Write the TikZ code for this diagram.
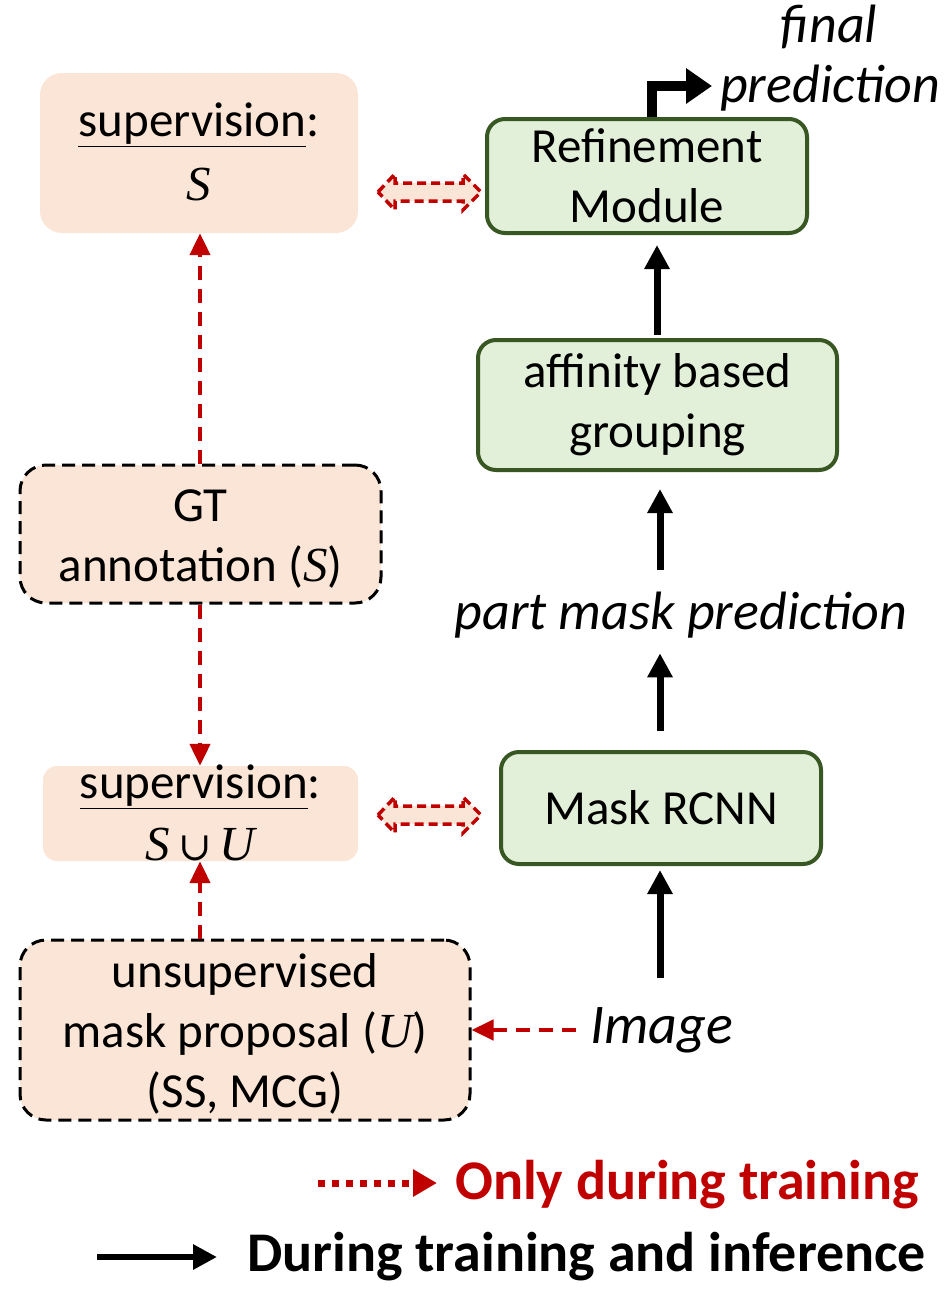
\documentclass[tikz,border=0pt]{standalone}
\usepackage{fontspec}
\setmainfont{Carlito}
\newfontfamily\mfont{Liberation Serif}
\newfontfamily\symfnt{DejaVu Serif}
\newcommand{\mS}{{\mfont\itshape S}}
\newcommand{\mU}{{\mfont\itshape U}}
\usetikzlibrary{arrows.meta}
\definecolor{peach}{HTML}{FBE5D6}
\definecolor{gfill}{HTML}{E2F0D9}
\definecolor{gline}{HTML}{385723}
\definecolor{tred}{HTML}{C00000}
\begin{document}
\begin{tikzpicture}[x=1pt,y=-1pt,
  every node/.style={font=\fontsize{49}{60}\selectfont, align=center, inner sep=0pt},
  lbl/.style={font=\fontsize{54}{60}\selectfont\itshape},
  peachbox/.style={fill=peach, rounded corners=22pt},
  dashbox/.style={fill=peach, draw=black, line width=3pt, dash pattern=on 13pt off 7pt, rounded corners=26pt},
  greenbox/.style={fill=gfill, draw=gline, line width=4pt, rounded corners=18pt},
  blk/.style={line width=7pt, -{Triangle[length=24pt,width=24pt]}},
  redd/.style={tred, line width=4.5pt, dash pattern=on 14pt off 9pt, -{Triangle[length=22pt,width=20pt]}},
  dbl/.style={fill=peach, draw=tred, line width=3.5pt, dash pattern=on 9pt off 5pt, line join=miter}
]
\useasboundingbox (0,0) rectangle (952,1296);

% boxes
\node[peachbox, minimum width=318pt, minimum height=160pt] (supS) at (199,153) {};
\node at (199,125) {\underline{supervision}:};
\node at (199,185) {\mS};

\node[greenbox, minimum width=320pt, minimum height=114pt] (ref) at (647,176) {Refinement\\Module};
\node[greenbox, minimum width=359pt, minimum height=130pt] (aff) at (657.5,405) {affinity based\\grouping};
\node[lbl] (pmp) at (681,615) {part mask prediction};
\node[greenbox, minimum width=320pt, minimum height=112pt] (mask) at (661,808) {Mask RCNN};
\node[lbl, anchor=west, font=\fontsize{56}{60}\selectfont\itshape] (img) at (590,1030) {Image};
\coordinate (imgtop) at (660,978);

\node[dashbox, minimum width=361pt, minimum height=138pt] (gt) at (200.5,534) {};
\node at (200.5,539) {GT\\annotation (\mS)};
\node[peachbox, minimum width=315pt, minimum height=95pt, rounded corners=14pt] (supSU) at (200.5,813.5) {};
\node at (200.5,787) {\underline{supervision}:};
\node at (200.5,845) {\mS\,{\symfnt\fontsize{40}{40}\selectfont ∪}\,\mU};
\node[dashbox, minimum width=450pt, minimum height=180pt] (uns) at (245,1030) {};
\node at (245,1034) {unsupervised\\mask proposal (\mU)\\(SS, MCG)};

\node[lbl, anchor=west] (fin) at (720,88) {prediction};
\node[lbl] (fin2) at (829,27) {final};

% black arrows
\draw[blk] ([yshift=3pt]aff.north -| 657,0) -- ([yshift=-10pt]ref.south -| 657,0);
\draw[blk] ([yshift=22pt]pmp.north -| 660,0) -- ([yshift=-17pt]aff.south -| 660,0);
\draw[blk] ([yshift=19pt]mask.north -| 660,0) -- ([yshift=-15pt]pmp.south -| 660,0);
\draw[blk] (imgtop) -- ([yshift=-4pt]mask.south -| 660,0);
\coordinate (fr) at (712,86);
\draw[line width=10pt, -{Triangle[length=26pt,width=34pt]}] (ref.north -| 652,0) -- (652,86) -- (fr);

% red dashed arrows
\draw[redd] (gt.north -| 200,0) -- (supS.south -| 200,0);
\draw[redd] (gt.south -| 200,0) -- (supSU.north -| 200,0);
\draw[redd] (uns.north -| 200,0) -- (supSU.south -| 200,0);
\draw[redd] ([xshift=-14pt]img.west) -- (uns.east |- img);

% double arrows
\draw[dbl] (378,192) -- (395,174) -- (395,183) -- (463,183) -- (463,174) -- (481,192) -- (463,210) -- (463,201) -- (395,201) -- (395,210) -- cycle;
\draw[dbl] (378,815) -- (395,797) -- (395,806) -- (463,806) -- (463,797) -- (481,815) -- (463,833) -- (463,824) -- (395,824) -- (395,833) -- cycle;

% legend
\coordinate (l1a) at (318,1183);
\coordinate (l1b) at (437,1183);
\draw[tred, line width=7pt, dash pattern=on 7pt off 7pt, -{Triangle[length=24pt,width=26pt]}] (l1a) -- (l1b);
\node[anchor=west, text=tred, font=\fontsize{56}{60}\selectfont\bfseries] (t1) at (455,1185) {Only during training};
\coordinate (l2a) at (97,1257);
\coordinate (l2b) at (217,1257);
\draw[line width=6pt, -{Triangle[length=24pt,width=24pt]}] (l2a) -- (l2b);
\node[anchor=west, font=\fontsize{56}{60}\selectfont\bfseries] (t2) at (247,1257) {During training and inference};
\end{tikzpicture}
\end{document}
